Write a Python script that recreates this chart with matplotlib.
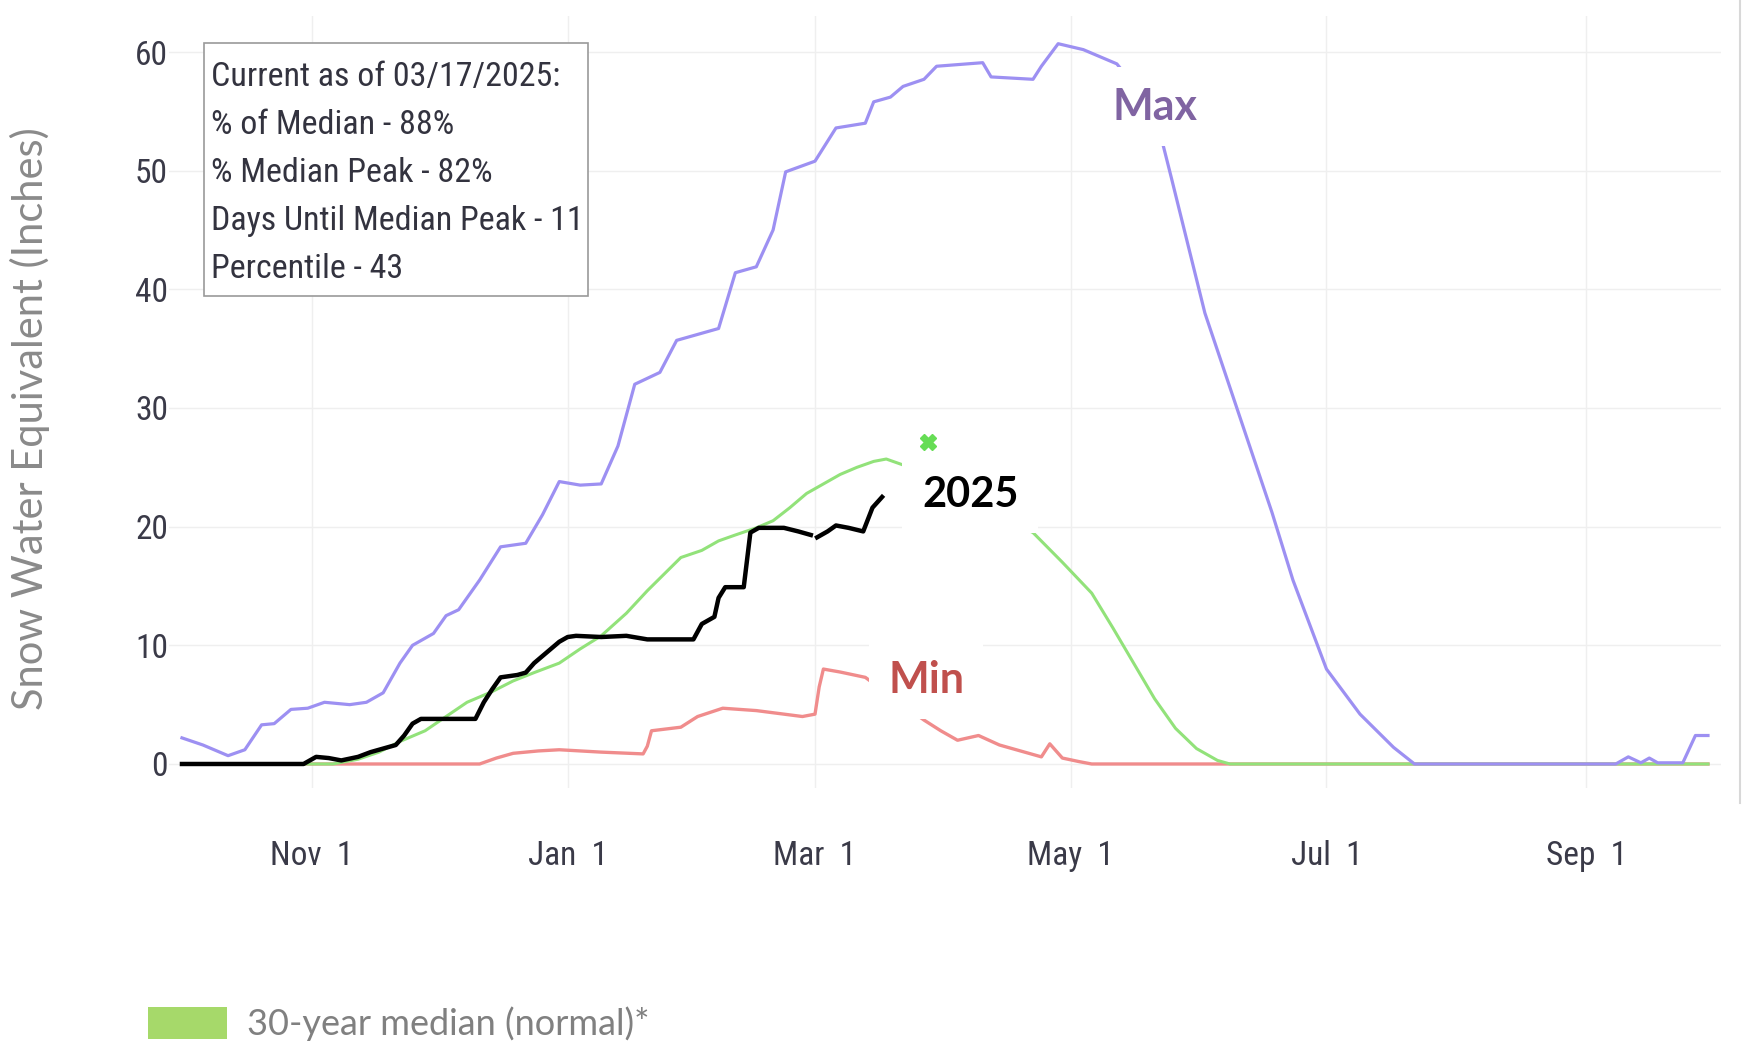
import numpy as np
import matplotlib
matplotlib.use('Agg')
import matplotlib.pyplot as plt
import matplotlib.dates as mdates
from matplotlib.patches import Rectangle, Patch
from matplotlib.lines import Line2D

# water year starts Oct 1 2024; x values are days since then
start = np.datetime64('2024-10-01')

max_days = [0, 5, 11, 15, 19, 22, 26, 30, 34, 40, 44, 48, 52, 55, 60, 63, 66, 71, 76, 82,
            86, 90, 95, 100, 104, 108, 114, 118, 123, 128, 132, 137, 141, 144, 151, 156,
            163, 165, 169, 172, 177, 180, 191, 193, 203, 205, 209, 215, 223, 232, 236,
            244, 252, 260, 265, 273, 281, 289, 294, 342, 345, 348, 350, 352, 356, 358,
            361, 364]
max_vals = [2.2, 1.6, 0.7, 1.2, 3.3, 3.4, 4.6, 4.7, 5.2, 5.0, 5.2, 6.0, 8.5, 10.0, 11.0,
            12.5, 13.0, 15.5, 18.3, 18.6, 21.0, 23.8, 23.5, 23.6, 26.8, 32.0, 33.0, 35.7,
            36.2, 36.7, 41.4, 41.9, 45.0, 49.9, 50.8, 53.6, 54.0, 55.8, 56.2, 57.1, 57.7,
            58.8, 59.1, 57.9, 57.7, 58.8, 60.7, 60.2, 59.0, 55.0, 49.4, 38.0, 29.6, 21.2,
            15.5, 8.0, 4.2, 1.4, 0.0, 0.0, 0.6, 0.1, 0.5, 0.1, 0.1, 0.1, 2.4, 2.4]

med_days = [0, 36, 42, 47, 52, 58, 63, 68, 74, 79, 84, 90, 95, 100, 106, 111, 115, 119,
            124, 128, 132, 137, 141, 145, 149, 153, 157, 161, 165, 168, 172, 203, 210,
            217, 222, 227, 232, 237, 242, 247, 250, 364]
med_vals = [0.0, 0.0, 0.4, 1.0, 1.9, 2.8, 4.0, 5.2, 6.1, 7.0, 7.7, 8.5, 9.7, 10.8, 12.7,
            14.6, 16.0, 17.4, 18.0, 18.8, 19.3, 19.9, 20.5, 21.6, 22.8, 23.6, 24.4, 25.0,
            25.5, 25.7, 25.2, 19.5, 17.0, 14.4, 11.5, 8.5, 5.5, 3.0, 1.3, 0.3, 0.0, 0.0]

cur_days = [0, 29, 32, 35, 38, 42, 45, 47, 51, 53, 55, 57, 70, 72, 74, 76, 80, 82, 84,
            87, 90, 92, 94, 100, 106, 111, 122, 124, 127, 128, 129.6, 134, 135.6, 137.6,
            143.6, 147, 150, 150.8, 151.5, 154, 156, 159, 162.5, 164.7, 167]
cur_vals = [0.0, 0.0, 0.6, 0.5, 0.3, 0.6, 1.0, 1.2, 1.6, 2.4, 3.4, 3.8, 3.8, 5.2, 6.3,
            7.3, 7.5, 7.7, 8.5, 9.4, 10.3, 10.7, 10.8, 10.7, 10.8, 10.5, 10.5, 11.8, 12.4,
            14.0, 14.9, 14.9, 19.5, 19.9, 19.9, 19.6, 19.3, np.nan, 19.1, 19.6, 20.1,
            19.9, 19.6, 21.6, 22.5]

min_days = [0, 71, 75, 79, 85, 90, 100, 110, 111, 112, 119, 123, 129, 137, 148, 151, 152,
            153, 157, 163, 170, 177, 181, 185, 190, 195, 205, 207, 210, 214, 217, 364]
min_vals = [0.0, 0.0, 0.5, 0.9, 1.1, 1.2, 1.0, 0.85, 1.5, 2.8, 3.1, 4.0, 4.7, 4.5, 4.0,
            4.2, 6.5, 8.0, 7.75, 7.3, 5.5, 3.7, 2.8, 2.0, 2.4, 1.6, 0.6, 1.7, 0.5, 0.2,
            0.0, 0.0]

peak_day = 178
peak_val = 27.1

info_lines = ['Current as of 03/17/2025:', '% of Median - 88%', '% Median Peak - 82%',
              'Days Until Median Peak - 11', 'Percentile - 43']
y_ticks = [0, 10, 20, 30, 40, 50, 60]


def to_dates(days):
    return start + np.round(np.array(days, dtype=float) * 24).astype('timedelta64[h]')


narrow = ['Roboto Condensed', 'Roboto']

fig = plt.figure(figsize=(17.48, 10.45), dpi=100)
ax = fig.add_axes([0.0969, 0.2462, 0.8874, 0.7381])

ax.plot(to_dates(min_days), min_vals, color='#f08c8c', lw=2.4, zorder=2)
ax.plot(to_dates(med_days), med_vals, color='#92e27a', lw=2.2, zorder=3)
ax.plot(to_dates(max_days), max_vals, color='#9d90f2', lw=2.3, zorder=4)
ax.plot(to_dates(cur_days), cur_vals, color='black', lw=3.2, zorder=5)
ax.plot(to_dates([peak_day]), [peak_val], marker='X', color='#66dd55', ms=11, ls='none', zorder=6)

ax.set_xlim(to_dates([-3])[0], to_dates([367])[0])
ax.set_ylim(-2, 63)
ax.set_yticks(y_ticks)
ax.xaxis.set_major_locator(mdates.MonthLocator(bymonth=[11, 1, 3, 5, 7, 9]))
ax.xaxis.set_major_formatter(plt.FuncFormatter(
    lambda v, p: '{:%b}  {}'.format(mdates.num2date(v), mdates.num2date(v).day)))
ax.tick_params(axis='x', length=0, pad=38, labelsize=24, labelcolor='#3a3a48')
ax.tick_params(axis='y', length=0, pad=1, labelsize=24, labelcolor='#3a3a48')
for lab in ax.get_xticklabels() + ax.get_yticklabels():
    lab.set_family(narrow)
ax.grid(True, color='#efefef', lw=1)
ax.set_axisbelow(True)
for s in ax.spines.values():
    s.set_visible(False)

# series labels with white boxes over the lines
box = dict(facecolor='white', edgecolor='none', pad=14)
ax.text(to_dates([232])[0], 55.4, 'Max', color='#8064a2', fontsize=31, fontweight='bold',
        family='Lato', ha='center', va='center', bbox=box, zorder=8)
ax.text(to_dates([188])[0], 22.7, '2025', color='black', fontsize=30, fontweight='bold',
        family='Lato', ha='center', va='center', bbox=box, zorder=8)
ax.text(to_dates([177.5])[0], 7.1, 'Min', color='#c0504d', fontsize=31, fontweight='bold',
        family='Lato', ha='center', va='center', bbox=box, zorder=8)

# info box
fig.add_artist(Rectangle((204 / 1748, 1 - 296 / 1045), 384 / 1748, 253 / 1045,
                         transform=fig.transFigure, facecolor='white', edgecolor='#9a9a9a', lw=1.2))
fig.text(211 / 1748, 1 - 61 / 1045, '\n'.join(info_lines), ha='left', va='top', fontsize=24.5,
         family=narrow, color='#33333f', linespacing=1.64)

fig.text(30 / 1748, 1 - 419 / 1045, 'Snow Water Equivalent (Inches)', rotation=90,
         ha='center', va='center', fontsize=30, family='Lato', color='#8a8a8a')

# right border line of the original chart image
fig.add_artist(Line2D([1740 / 1748, 1740 / 1748], [1 - 803 / 1045, 1.0],
                      transform=fig.transFigure, color='#d8d8d8', lw=1.5))

handles = [Patch(facecolor='#a6d96a', edgecolor='none')]
fig.legend(handles, ['30-year median (normal)*'], loc='center left',
           bbox_to_anchor=(148 / 1748, 1 - 1024 / 1045), frameon=False, borderpad=0,
           borderaxespad=0, handlelength=2.2, handleheight=1.0, handletextpad=0.55,
           prop={'family': 'Lato', 'size': 26}, labelcolor='#808080')

fig.savefig('out.png', dpi=100)
